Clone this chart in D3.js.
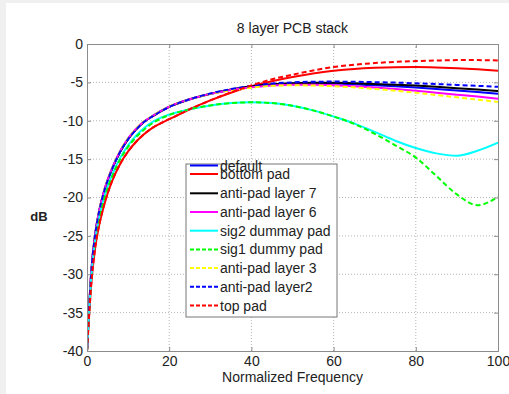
<!DOCTYPE html>
<html>
<head>
<meta charset="utf-8">
<script src="https://cdn.jsdelivr.net/npm/d3@7"></script>
<style>
  body { margin: 0; background: #f0f0f0; }
  svg { display: block; }
  text { font-family: "Liberation Sans", Arial, sans-serif; fill: #222; }
</style>
</head>
<body>
<div id="chart"></div>
<script>
// sample frequencies shared by every curve
const freq = [0, 0.5, 1, 2, 3, 4, 5, 6, 8, 10, 12, 14, 16, 18, 20, 25, 30, 35, 40, 45, 50, 55, 60, 65, 70, 75, 80, 85, 90, 95, 100];

const defaultPad  = [-40, -34.5, -30, -24.8, -21.7, -19.5, -17.8, -16.4, -14.1, -12.4, -11.1, -10.1, -9.4, -8.75, -8.2, -7.2, -6.5, -5.95, -5.55, -5.3, -5.15, -5.12, -5.15, -5.25, -5.38, -5.52, -5.68, -5.87, -6.07, -6.27, -6.48];
const bottomPad   = [-40, -35.5, -31.5, -26.5, -23.5, -21.3, -19.5, -18.0, -15.7, -14.0, -12.7, -11.7, -10.9, -10.3, -9.8, -8.5, -7.35, -6.35, -5.5, -4.85, -4.3, -3.85, -3.5, -3.25, -3.1, -3.02, -3.0, -3.05, -3.15, -3.3, -3.5];
const antiPad7    = [-40, -34.5, -30, -24.8, -21.7, -19.5, -17.8, -16.4, -14.1, -12.4, -11.1, -10.1, -9.4, -8.75, -8.2, -7.2, -6.5, -5.93, -5.5, -5.25, -5.1, -5.05, -5.05, -5.1, -5.2, -5.3, -5.42, -5.58, -5.75, -5.93, -6.12];
const antiPad6    = [-40, -34.4, -29.9, -24.7, -21.6, -19.4, -17.7, -16.3, -14.0, -12.3, -11.0, -10.05, -9.35, -8.7, -8.15, -7.2, -6.5, -6.0, -5.65, -5.4, -5.3, -5.3, -5.38, -5.5, -5.67, -5.87, -6.1, -6.35, -6.6, -6.85, -7.12];
const sig2Dummy   = [-40, -34.9, -30.6, -25.5, -22.5, -20.3, -18.6, -17.2, -14.9, -13.2, -11.9, -10.9, -10.15, -9.6, -9.2, -8.5, -8.0, -7.7, -7.6, -7.7, -8.05, -8.65, -9.45, -10.35, -11.45, -12.6, -13.55, -14.25, -14.55, -13.9, -12.85];
const sig1Dummy   = [-40, -35, -30.8, -25.7, -22.7, -20.5, -18.8, -17.4, -15.1, -13.4, -12.1, -11.1, -10.3, -9.7, -9.25, -8.5, -8.0, -7.7, -7.6, -7.7, -8.05, -8.65, -9.45, -10.4, -11.7, -13.2, -14.8, -17.2, -19.6, -21.0, -19.9];
const antiPad3    = [-40, -34.4, -29.9, -24.7, -21.6, -19.4, -17.7, -16.3, -14.0, -12.3, -11.0, -10.05, -9.35, -8.7, -8.15, -7.2, -6.5, -6.05, -5.7, -5.45, -5.38, -5.4, -5.5, -5.65, -5.85, -6.08, -6.35, -6.65, -6.95, -7.25, -7.55];
const antiPad2    = [-40, -34.5, -30, -24.8, -21.7, -19.5, -17.8, -16.4, -14.1, -12.4, -11.1, -10.1, -9.4, -8.75, -8.2, -7.2, -6.45, -5.88, -5.45, -5.15, -5.0, -4.92, -4.9, -4.92, -4.97, -5.03, -5.12, -5.22, -5.33, -5.45, -5.58];
const topPad      = [-40, -35.5, -31.5, -26.5, -23.5, -21.3, -19.5, -18.0, -15.7, -14.0, -12.7, -11.7, -10.9, -10.3, -9.8, -8.5, -7.35, -6.3, -5.4, -4.6, -4.0, -3.45, -3.0, -2.7, -2.48, -2.33, -2.22, -2.15, -2.1, -2.1, -2.15];

const seriesNames  = ["default", "bottom pad", "anti-pad layer 7", "anti-pad layer 6", "sig2 dummay pad", "sig1 dummy pad", "anti-pad layer 3", "anti-pad layer2", "top pad"];
const seriesValues = [defaultPad, bottomPad, antiPad7, antiPad6, sig2Dummy, sig1Dummy, antiPad3, antiPad2, topPad];
const seriesColors = ["#0000ff", "#ff0000", "#000000", "#ff00ff", "#00ffff", "#00ff00", "#ffff00", "#0000ff", "#ff0000"];
const seriesDashed = [false, false, false, false, false, true, true, true, true];

const xTicks = [0, 20, 40, 60, 80, 100];
const yTicks = [0, -5, -10, -15, -20, -25, -30, -35, -40];

const W = 509, H = 394;
const MARGIN = { TOP: 44, LEFT: 87, RIGHT: 11, BOTTOM: 43 };
const PW = W - MARGIN.LEFT - MARGIN.RIGHT;
const PH = H - MARGIN.TOP - MARGIN.BOTTOM;
const AXIS_GRAY = "#8c8c8c";

const svg = d3.select("#chart").append("svg")
  .attr("width", W)
  .attr("height", H);

// white figure area (thin grey strip left/top like the screenshot)
svg.append("rect").attr("x", 6).attr("y", 3).attr("width", W - 6).attr("height", H - 3).attr("fill", "#fff");

const g = svg.append("g").attr("transform", `translate(${MARGIN.LEFT}, ${MARGIN.TOP})`);

const x = d3.scaleLinear().domain([0, 100]).range([0, PW]);
const y = d3.scaleLinear().domain([-40, 0]).range([PH, 0]);

// grid
g.append("g").selectAll("line").data(xTicks.slice(1, -1)).join("line")
  .attr("x1", d => x(d)).attr("x2", d => x(d))
  .attr("y1", 0).attr("y2", PH)
  .attr("stroke", "#b5b5b5").attr("stroke-dasharray", "1,2");
g.append("g").selectAll("line").data(yTicks.slice(1, -1)).join("line")
  .attr("y1", d => y(d)).attr("y2", d => y(d))
  .attr("x1", 0).attr("x2", PW)
  .attr("stroke", "#b5b5b5").attr("stroke-dasharray", "1,2");

// curves
g.append("clipPath").attr("id", "clip")
  .append("rect").attr("width", PW).attr("height", PH + 1);

const line = d3.line()
  .x(d => x(d[0]))
  .y(d => y(d[1]))
  .curve(d3.curveMonotoneX);

const curves = g.append("g").attr("clip-path", "url(#clip)");
seriesValues.forEach((vals, i) => {
  curves.append("path")
    .datum(freq.map((f, k) => [f, vals[k]]))
    .attr("fill", "none")
    .attr("stroke", seriesColors[i])
    .attr("stroke-width", 2)
    .attr("stroke-dasharray", seriesDashed[i] ? "5,3" : null)
    .attr("d", line);
});

// axes
const xAxis = g.append("g").attr("transform", `translate(0, ${PH})`)
  .call(d3.axisBottom(x).tickValues(xTicks).tickSize(-4).tickPadding(5));
const xAxisTop = g.append("g")
  .call(d3.axisTop(x).tickValues(xTicks).tickSize(-4).tickFormat(""));
const yAxis = g.append("g")
  .call(d3.axisLeft(y).tickValues(yTicks).tickSize(-4).tickPadding(4).tickFormat(d3.format("d")));
const yAxisRight = g.append("g").attr("transform", `translate(${PW}, 0)`)
  .call(d3.axisRight(y).tickValues(yTicks).tickSize(-4).tickFormat(""));

[xAxis, xAxisTop, yAxis, yAxisRight].forEach(a => {
  a.select(".domain").attr("stroke", AXIS_GRAY);
  a.selectAll(".tick line").attr("stroke", AXIS_GRAY);
  a.selectAll(".tick text")
    .attr("font-size", 14)
    .attr("font-family", "Liberation Sans, Arial, sans-serif")
    .attr("fill", "#222");
});
yAxis.selectAll(".tick text").text(d => String(d));

// titles
g.append("text")
  .attr("x", PW / 2).attr("y", -11)
  .attr("text-anchor", "middle")
  .attr("font-size", 14)
  .text("8 layer PCB stack");

g.append("text")
  .attr("x", PW / 2).attr("y", PH + 31)
  .attr("text-anchor", "middle")
  .attr("font-size", 14)
  .text("Normalized Frequency");

svg.append("text")
  .attr("x", 39).attr("y", 221)
  .attr("text-anchor", "middle")
  .attr("font-size", 13)
  .attr("font-weight", "bold")
  .attr("fill", "#000")
  .text("dB");

// legend
const legend = svg.append("g").attr("transform", "translate(186, 164)");
legend.append("rect")
  .attr("width", 151).attr("height", 153)
  .attr("fill", "#fff").attr("stroke", "#777");

// first two rows overlap, as in the original figure
const rowY = (i) => i === 0 ? 1.5 : i === 1 ? 10 : 29.3 + (i - 2) * 18.7;

seriesNames.forEach((name, i) => {
  const row = legend.append("g").attr("transform", `translate(0, ${rowY(i)})`);
  row.append("line")
    .attr("x1", 4).attr("x2", 32)
    .attr("stroke", seriesColors[i])
    .attr("stroke-width", 2)
    .attr("stroke-dasharray", seriesDashed[i] ? "4,2" : null);
  row.append("text")
    .attr("x", 34).attr("y", 5)
    .attr("font-size", 14)
    .text(name);
});
</script>
</body>
</html>
